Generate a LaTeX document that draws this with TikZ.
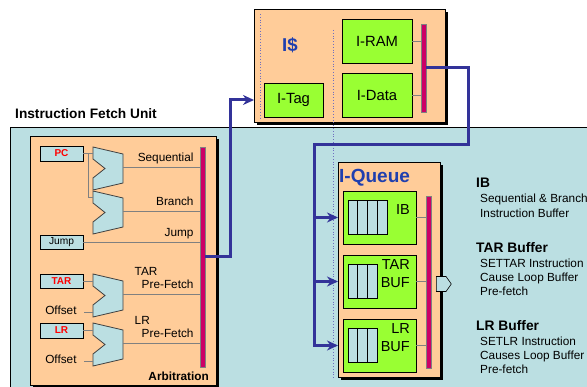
\documentclass[tikz,border=0pt]{standalone}
\usepackage{fontspec}
\setmainfont{Liberation Sans}
\usepackage{tikz}
\usetikzlibrary{positioning,calc,shadows,shapes.arrows,arrows.meta}

\definecolor{peach}{HTML}{FFCC99}
\definecolor{unitbg}{HTML}{BBDFE2}
\definecolor{lime}{HTML}{99FF33}
\definecolor{barcol}{HTML}{CC0066}
\definecolor{linkblue}{HTML}{333399}
\definecolor{titleblue}{HTML}{1F3FAF}
\definecolor{dotcol}{HTML}{6F6FC0}

\tikzset{
  outline/.style={draw=black, line width=0.8pt, outer sep=0pt, inner sep=0pt},
  unitbox/.style={outline, fill=peach, general shadow={fill=black, shadow xshift=3pt, shadow yshift=-3pt}},
  blk/.style={outline, fill=lime, font=\fontsize{14.8}{17}\selectfont},
  qblk/.style={outline, fill=lime, minimum width=73pt, minimum height=53pt},
  regbox/.style={outline, fill=unitbg, minimum width=43pt, font=\fontsize{10}{12}\selectfont\bfseries},
  cell/.style={outline, line width=1pt, fill=unitbg, minimum width=9.75pt, minimum height=34pt},
  busbar/.style={fill=barcol, draw=black!50, line width=0.4pt, minimum width=5pt, inner sep=0pt, outer sep=0pt},
  wire/.style={draw=black!50, line width=0.9pt},
  bus/.style={draw=linkblue, line width=3pt},
  feed/.style={bus, -{Stealth[length=11pt,width=10pt]}},
  lbl/.style={font=\fontsize{11.8}{13.5}\selectfont, inner sep=2pt, text depth=3pt},
  tagtext/.style={lbl, anchor=south east, xshift=-4pt},
  qtxt/.style={anchor=east, align=right, inner sep=0pt, xshift=-6pt, yshift=8pt, font=\fontsize{14.5}{18}\selectfont},
  note/.style={anchor=north west, inner sep=0pt, align=left, font=\fontsize{11.8}{14.2}\selectfont},
  outarr/.style={draw=black, line width=0.6pt, fill=unitbg, single arrow, single arrow head extend=0pt,
    single arrow tip angle=110, minimum height=15pt, minimum width=15pt, inner sep=0pt},
  pics/mux/.style={code={
    \draw[fill=unitbg, draw=black!75, line width=0.8pt] (0,0) -- (30,7) -- (30,36) -- (0,43) -- (0,31) -- (12,21.5) -- (0,12) -- cycle;
    \coordinate (-a) at (0,6);
    \coordinate (-b) at (0,38);
    \coordinate (-out) at (30,20);
  }}
}

\begin{document}
\begin{tikzpicture}[x=1pt,y=-1pt]
  \useasboundingbox (0,0) rectangle (587,387);

  % fetch unit area
  \fill[unitbg] (10,127) rectangle (587,387);
  \draw[line width=0.8pt] (10,387) -- (10,127) -- (587,127);
  \node[anchor=west, inner sep=0pt, font=\fontsize{13.7}{16}\selectfont\bfseries] (ifu) at (15,114) {Instruction Fetch Unit};

  % arbitration
  \node[unitbox, minimum width=186pt, minimum height=249pt, anchor=north west] (arb) at (30,136) {};
  \node[regbox, minimum height=15pt, text=red, anchor=north west] (pc) at (40,146) {PC};
  \node[regbox, minimum height=14pt, anchor=north west, font=\fontsize{10.2}{12}\selectfont] (jump) at (40,235) {Jump};
  \node[regbox, minimum height=14pt, text=red, anchor=north west] (tar) at (40,274) {TAR};
  \node[regbox, minimum height=15pt, text=red, anchor=north west] (lr) at (40,323) {LR};

  \pic (m1) at (93,147) {mux};
  \pic (m2) at (93,191) {mux};
  \pic (m3) at (93,274) {mux};
  \pic (m4) at (93,323) {mux};

  \node[busbar, minimum height=220pt, anchor=north west] (abar) at (200,147) {};

  \draw[wire] (pc.east) -- (pc.east -| m1-a);
  \draw[wire] ($(pc.east)+(5,0)$) |- (m2-a);
  \draw[wire] (tar.east) -- (tar.east -| m3-a);
  \draw[wire] (lr.east) -- (lr.east -| m4-a);
  \draw[wire] (m3-b) -- ++(-9,0) node[lbl, left=5pt] (off1) {Offset};
  \draw[wire] (m4-b) -- ++(-9,0) node[lbl, left=5pt] (off2) {Offset};

  \draw[wire] (m1-out) -- (m1-out -| abar.west) node[tagtext] (seq) {Sequential};
  \draw[wire] (m2-out) -- (m2-out -| abar.west) node[tagtext] (br) {Branch};
  \draw[wire] (jump.east) -- (jump.east -| abar.west) node[tagtext] (jmp) {Jump};
  \draw[wire] (m3-out) -- (m3-out -| abar.west) node[tagtext, align=left] (tarpf) {TAR\\\hspace*{7pt}Pre-Fetch};
  \draw[wire] (m4-out) -- (m4-out -| abar.west) node[tagtext, align=left] (lrpf) {LR\\\hspace*{7pt}Pre-Fetch};
  \node[lbl, font=\fontsize{11.8}{13.5}\selectfont\bfseries, anchor=south east] (arbt) at ($(arb.south east)+(-5,1)$) {Arbitration};

  % instruction cache
  \node[unitbox, minimum width=191pt, minimum height=113pt, anchor=north west] (icache) at (254,9) {};
  \node[inner sep=0pt, text=titleblue, font=\fontsize{18.6}{20}\selectfont\bfseries] (ictitle) at (290,45) {I\$};
  \node[blk, minimum width=59pt, minimum height=34pt, anchor=north west] (itag) at (264,83) {I-Tag};
  \node[blk, minimum width=70pt, minimum height=44pt, anchor=north west] (iram) at (342,19) {I-RAM};
  \node[blk, minimum width=70pt, minimum height=44pt, below=10pt of iram] (idata) {I-Data};
  \node[busbar, minimum height=88pt, anchor=north west] (cbar) at (421,24) {};
  \draw[wire] (iram.east) -- (iram.east -| cbar.west);
  \draw[wire] (idata.east) -- (idata.east -| cbar.west);

  % instruction queue
  \node[unitbox, minimum width=102pt, minimum height=215pt, anchor=north west] (iq) at (338,162) {};
  \node[anchor=west, inner sep=0pt, text=titleblue, font=\fontsize{19}{21}\selectfont\bfseries] (iqtitle) at ($(iq.north west)+(1,16)$) {I-Queue};
  \node[qblk, anchor=north west] (ib) at (343,191) {};
  \node[qblk, below=11pt of ib] (tarbuf) {};
  \node[qblk, below=11pt of tarbuf] (lrbuf) {};
  \foreach \i in {0,...,3}
    \node[cell, anchor=west] (ib-c\i) at ($(ib.west)+(5+9.75*\i,0)$) {};
  \foreach \b in {tarbuf,lrbuf}
    \foreach \i in {0,1,2}
      \node[cell, anchor=west] (\b-c\i) at ($(\b.west)+(5+9.75*\i,0)$) {};
  \node[qtxt] (ibtxt) at (ib.east) {IB};
  \node[qtxt] (tartxt) at (tarbuf.east) {TAR\\BUF};
  \node[qtxt] (lrtxt) at (lrbuf.east) {LR\\BUF};

  \node[busbar, minimum height=172pt, anchor=north west] (qbar) at (426,196) {};
  \foreach \b in {ib,tarbuf,lrbuf}
    \draw[wire] (\b.east) -- (\b.east -| qbar.west);
  \node[outarr, right=5pt of qbar, yshift=-2pt] (qout) {};

  % dotted split lines
  \draw[dotcol, dotted, line width=0.8pt] (260,14) -- (260,120);
  \draw[dotcol, dotted, line width=0.8pt] (333,30) -- (333,378);

  % blue links
  \draw[feed] (abar.east) -- ++(25,0) |- (icache.west |- itag);
  \coordinate (qturn) at ($(cbar.east)+(42,77)$);
  \coordinate (qfeed) at ($(iq.west)+(-24,0)$);
  \draw[feed] (cbar.east) -| (qturn) -| (qfeed |- lrbuf) -- (iq.west |- lrbuf);
  \foreach \b in {ib,tarbuf}
    \draw[feed] (qfeed |- \b) -- (iq.west |- \b);

  % notes
  \node[note] (ibnote) at (476,178) {{\bfseries\fontsize{13.8}{14.2}\selectfont IB}\\[1pt]\hspace*{4pt}Sequential \& Branch\\\hspace*{4pt}Instruction Buffer};
  \node[note] (tarnote) at (476,242) {{\bfseries\fontsize{13.8}{14.2}\selectfont TAR Buffer}\\[1pt]\hspace*{4pt}SETTAR Instruction\\\hspace*{4pt}Cause Loop Buffer\\\hspace*{4pt}Pre-fetch};
  \node[note] (lrnote) at (476,320) {{\bfseries\fontsize{13.8}{14.2}\selectfont LR Buffer}\\[1pt]\hspace*{4pt}SETLR Instruction\\\hspace*{4pt}Causes Loop Buffer\\\hspace*{4pt}Pre-fetch};
\end{tikzpicture}
\end{document}
